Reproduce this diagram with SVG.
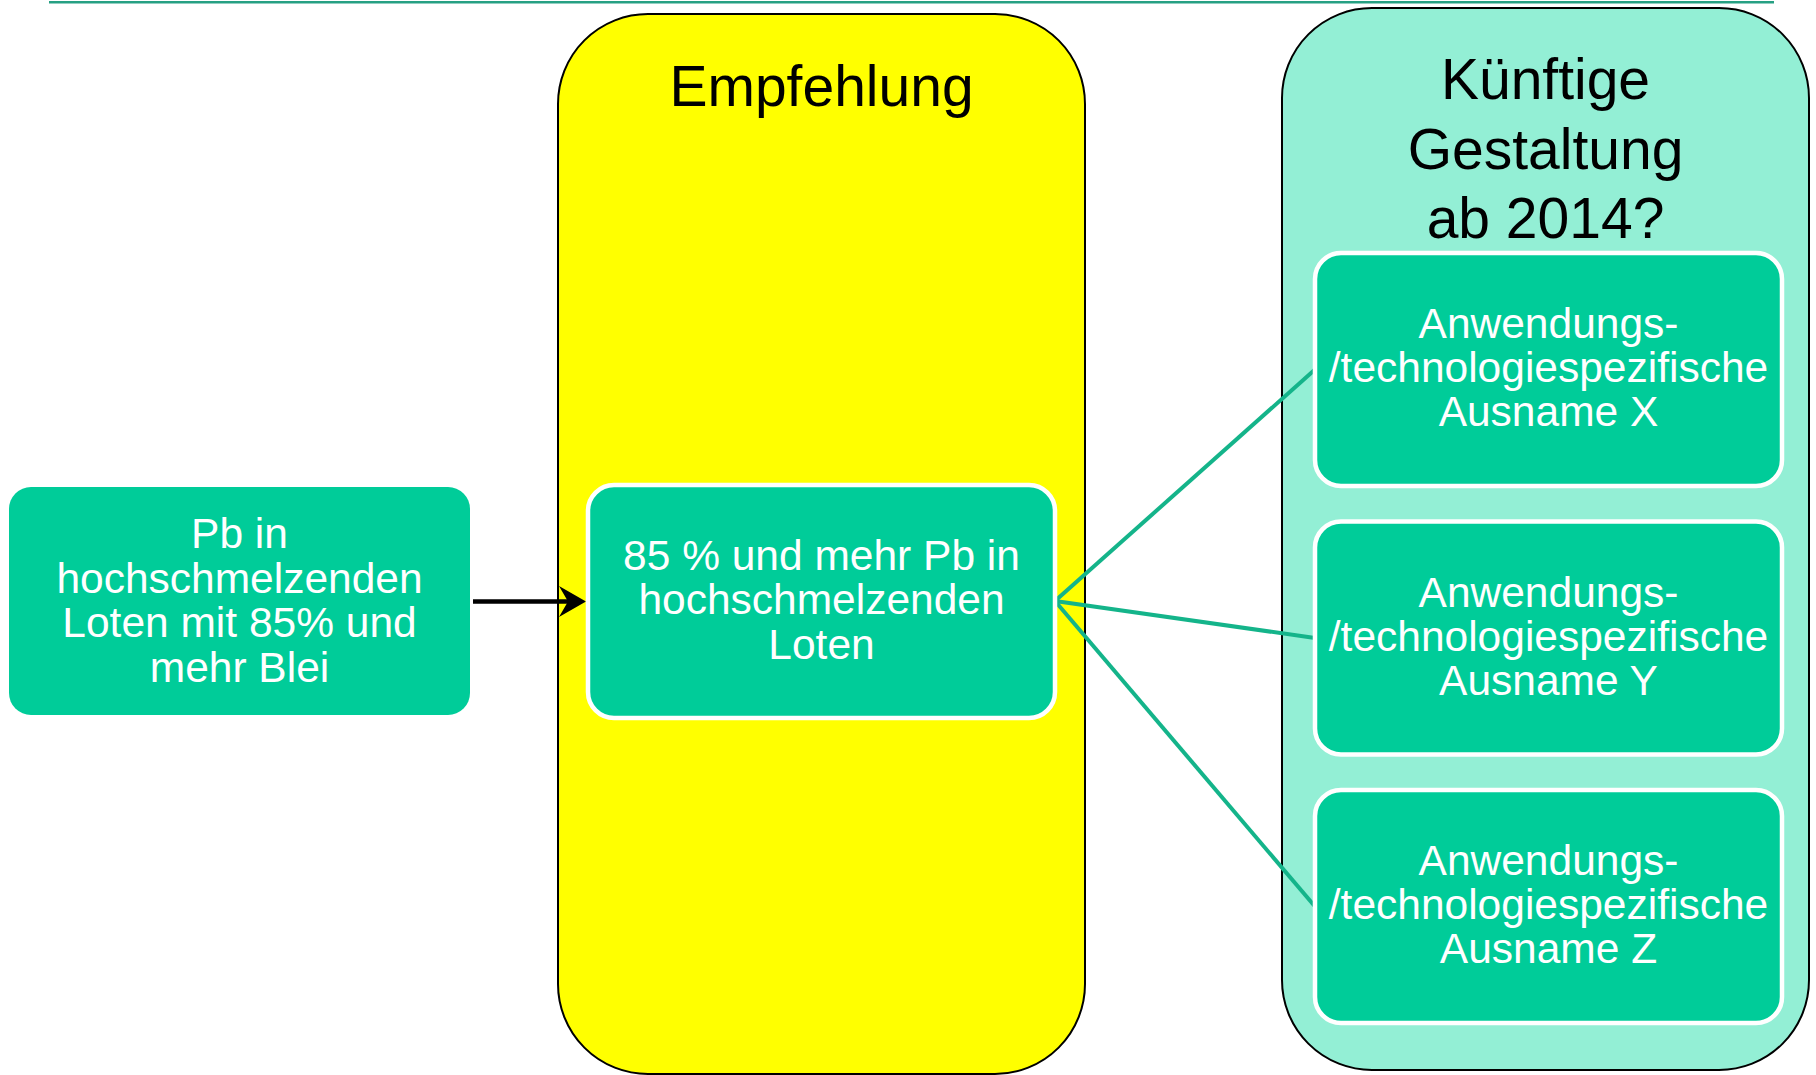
<svg xmlns="http://www.w3.org/2000/svg" width="1816" height="1075" viewBox="0 0 1816 1075">
  <style>
    .title { font-family: "Liberation Sans", Arial, sans-serif; font-size: 57px; fill: #000000; text-anchor: middle; }
    .lbl { font-family: "Liberation Sans", Arial, sans-serif; font-size: 42.5px; fill: #ffffff; text-anchor: middle; }
    .box { fill: #00cc99; }
    .wbox { fill: #00cc99; stroke: #ffffff; stroke-width: 4.5; }
    .conn { stroke: #14b48a; stroke-width: 4; fill: none; }
  </style>
  <rect width="1816" height="1075" fill="#ffffff"/>
  <line x1="49" y1="2.3" x2="1774" y2="2.3" stroke="#26a083" stroke-width="2.6"/>

  <g id="empfehlung">
    <rect x="558" y="14" width="527" height="1060" rx="90" ry="90" fill="#ffff00" stroke="#000000" stroke-width="2"/>
    <text class="title" x="821.5" y="106">Empfehlung</text>
  </g>

  <g id="kuenftige">
    <rect x="1282" y="8" width="527" height="1062" rx="90" ry="90" fill="#93efd5" stroke="#000000" stroke-width="2"/>
    <text class="title" x="1545.5" y="99">Künftige</text>
    <text class="title" x="1545.5" y="169">Gestaltung</text>
    <text class="title" x="1545.5" y="238">ab 2014?</text>
  </g>

  <g id="connectors">
    <line x1="473" y1="601.5" x2="575" y2="601.5" stroke="#000000" stroke-width="4.5"/>
    <polygon points="586,601.5 559,586 568,601.5 559,617" fill="#000000"/>
    <line class="conn" x1="1055" y1="601" x2="1315" y2="369.5"/>
    <line class="conn" x1="1055" y1="601" x2="1315" y2="638"/>
    <line class="conn" x1="1055" y1="601" x2="1315" y2="906.5"/>
  </g>

  <g id="pb-in">
    <rect class="box" x="9" y="487" width="461" height="228" rx="22" ry="22"/>
    <text class="lbl" x="239.5" y="548">Pb in</text>
    <text class="lbl" x="239.5" y="592.5">hochschmelzenden</text>
    <text class="lbl" x="239.5" y="637">Loten mit 85% und</text>
    <text class="lbl" x="239.5" y="681.5">mehr Blei</text>
  </g>

  <g id="empfehlung-box">
    <rect class="wbox" x="588" y="485" width="467" height="233" rx="26" ry="26"/>
    <text class="lbl" x="821.5" y="569.5">85 % und mehr Pb in</text>
    <text class="lbl" x="821.5" y="614">hochschmelzenden</text>
    <text class="lbl" x="821.5" y="658.5">Loten</text>
  </g>

  <g id="ausname-x">
    <rect class="wbox" x="1315" y="253" width="467" height="233" rx="26" ry="26"/>
    <text class="lbl" x="1548.5" y="338">Anwendungs-</text>
    <text class="lbl" x="1548.5" y="382">/technologiespezifische</text>
    <text class="lbl" x="1548.5" y="426">Ausname X</text>
  </g>

  <g id="ausname-y">
    <rect class="wbox" x="1315" y="521.5" width="467" height="233" rx="26" ry="26"/>
    <text class="lbl" x="1548.5" y="606.5">Anwendungs-</text>
    <text class="lbl" x="1548.5" y="650.5">/technologiespezifische</text>
    <text class="lbl" x="1548.5" y="694.5">Ausname Y</text>
  </g>

  <g id="ausname-z">
    <rect class="wbox" x="1315" y="790" width="467" height="233" rx="26" ry="26"/>
    <text class="lbl" x="1548.5" y="875">Anwendungs-</text>
    <text class="lbl" x="1548.5" y="919">/technologiespezifische</text>
    <text class="lbl" x="1548.5" y="963">Ausname Z</text>
  </g>
</svg>
